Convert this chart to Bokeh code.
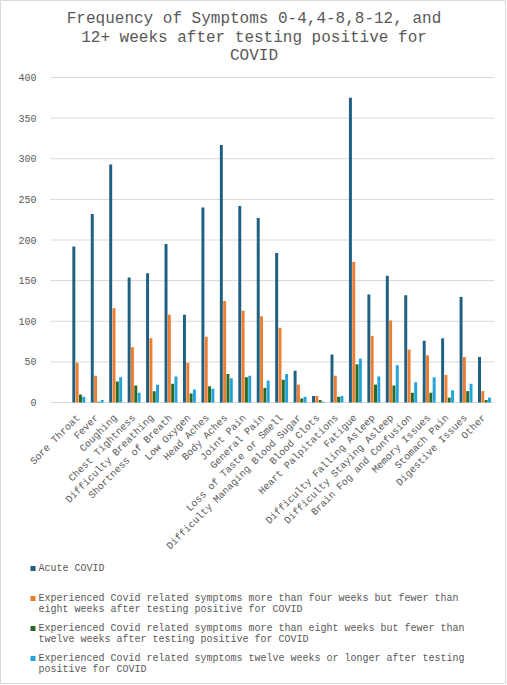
import textwrap
from bokeh.plotting import figure
from bokeh.models import Range1d, FixedTicker, ColumnDataSource
from bokeh.core.properties import value
from bokeh.embed import file_html
from bokeh.resources import INLINE

title_lines = ["Frequency of Symptoms 0-4,4-8,8-12, and",
               "12+ weeks after testing positive for",
               "COVID"]

categories = ["Sore Throat", "Fever", "Coughing", "Chest Tightness",
              "Difficulty Breathing", "Shortness of Breath", "Low Oxygen",
              "Head Aches", "Body Aches", "Joint Pain", "General Pain",
              "Loss of Taste or Smell", "Difficulty Managing Blood Sugar",
              "Blood Clots", "Heart Palpitations", "Fatigue",
              "Difficulty Falling Asleep", "Difficulty Staying Asleep",
              "Brain Fog and Confusion", "Memory Issues", "Stomach Pain",
              "Digestive Issues", "Other"]

series_names = [
    "Acute COVID",
    "Experienced Covid related symptoms more than four weeks but fewer than eight weeks after testing positive for COVID",
    "Experienced Covid related symptoms more than eight weeks but fewer than twelve weeks after testing positive for COVID",
    "Experienced Covid related symptoms twelve weeks or longer after testing positive for COVID",
]

acute =     [192, 232, 293, 154, 159, 195, 108, 240, 317, 242, 227, 184, 39, 8, 59, 375, 133, 156, 132, 76, 79, 130, 56]
wk4_8 =     [49, 33, 116, 68, 79, 108, 49, 81, 125, 113, 106, 92, 22, 8, 33, 173, 82, 101, 65, 58, 34, 56, 14]
wk8_12 =    [10, 1, 26, 21, 14, 23, 11, 20, 35, 31, 18, 28, 5, 3, 7, 47, 22, 21, 12, 12, 6, 14, 3]
wk12plus =  [7, 3, 31, 12, 22, 32, 16, 17, 30, 33, 27, 35, 7, 1, 8, 54, 32, 46, 25, 31, 15, 23, 6]

y_ticks = [0, 50, 100, 150, 200, 250, 300, 350, 400]

series_values = [acute, wk4_8, wk8_12, wk12plus]
colors = ["#1F5F80", "#ED7D31", "#2A6B25", "#23A3DC"]
gray = "#595959"
grid = "#D9D9D9"
FONT = "Liberation Mono"

# ---- layout (pixels of the page) ----
W, H = 506, 684
CAT0_PX, CAT_STEP = 78.3, 18.44        # first category centre, category pitch
ZERO_PY, PX_PER_UNIT = 402.0, 0.8125   # y pixel of value 0, pixels per unit
PLOT_L, PLOT_R = 50, 494               # plot area left/right

def px(xp):
    return (xp - CAT0_PX) / CAT_STEP

def py(yp):
    return (ZERO_PY - yp) / PX_PER_UNIT

p = figure(width=W, height=H, output_backend="svg", toolbar_location=None,
           x_range=Range1d(px(0), px(W)), y_range=Range1d(py(H), py(0)),
           min_border=0)
p.title.visible = False
p.outline_line_color = grid
p.background_fill_color = "white"
p.border_fill_color = "white"
p.xgrid.visible = False
p.ygrid.visible = False

# horizontal gridlines at the tick values, over the plot area only
n = len(y_ticks)
p.segment(x0=[px(PLOT_L)] * n, x1=[px(PLOT_R)] * n, y0=y_ticks, y1=y_ticks,
          line_color=grid, line_width=1)

xs = list(range(len(categories)))
offsets = [-0.27, -0.09, 0.09, 0.27]
for vals, col, off in zip(series_values, colors, offsets):
    src = ColumnDataSource(dict(x=[x + off for x in xs], top=vals))
    p.vbar(x="x", top="top", bottom=0, width=0.16, source=src,
           fill_color=col, line_color=None)

# axes drawn inside the frame
p.xaxis.fixed_location = 0
p.xaxis.bounds = (px(PLOT_L), px(PLOT_R))
p.xaxis.ticker = FixedTicker(ticks=xs)
p.xaxis.major_label_overrides = {i: c for i, c in enumerate(categories)}
p.xaxis.major_label_orientation = 0.7854
p.xaxis.major_tick_line_color = None
p.xaxis.minor_tick_line_color = None
p.xaxis.axis_line_color = None
p.xaxis.major_label_text_font = FONT
p.xaxis.major_label_text_font_size = "10px"
p.xaxis.major_label_text_color = gray
p.xaxis.major_label_standoff = 8

p.yaxis.fixed_location = px(PLOT_L)
p.yaxis.ticker = FixedTicker(ticks=y_ticks)
p.yaxis.axis_line_color = None
p.yaxis.major_tick_line_color = None
p.yaxis.minor_tick_line_color = None
p.yaxis.major_label_text_font = FONT
p.yaxis.major_label_text_font_size = "10px"
p.yaxis.major_label_text_color = gray
p.yaxis.major_label_standoff = 8

# title
title_y = [18, 37, 55]
p.text(x=[px(253.5)] * len(title_lines), y=[py(v) for v in title_y], text=title_lines,
       text_font=value(FONT), text_font_size="16px", text_color=gray,
       text_align="center", text_baseline="middle")

# legend
first_line_py = [568, 598, 628, 658]
pitch = 10.7
tx, ty, txt, sx, sy = [], [], [], [], []
for name, y0 in zip(series_names, first_line_py):
    for j, ln in enumerate(textwrap.wrap(name, 71)):
        tx.append(px(38))
        ty.append(py(y0 + pitch * j))
        txt.append(ln)
    sx.append(px(32.5))
    sy.append(py(y0))
p.text(x=tx, y=ty, text=txt, text_font=value(FONT), text_font_size="10px",
       text_color=gray, text_align="left", text_baseline="middle")
p.rect(x=sx, y=sy, width=5, height=5, width_units="screen", height_units="screen",
       fill_color=colors, line_color=None)

open("out.html", "w").write(file_html(p, INLINE))
